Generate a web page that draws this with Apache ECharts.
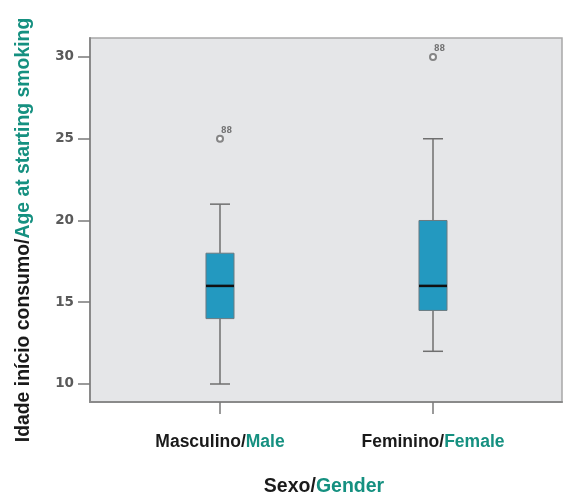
<!DOCTYPE html>
<html>
<head>
<meta charset="utf-8">
<script src="https://cdn.jsdelivr.net/npm/echarts@6/dist/echarts.min.js"></script>
<style>html,body{margin:0;padding:0;background:#fff}#c{width:565px;height:496px}</style>
</head>
<body>
<div id="c"></div>
<script>
// ---- data ----
const catPt = ['Masculino/', 'Feminino/'];
const catEn = ['Male', 'Female'];
const catPos = [1, 2];
const lowWhisker = [10, 12];
const q1 = [14, 14.5];
const median = [16, 16];
const q3 = [18, 20];
const highWhisker = [21, 25];
const outliers = [[1, 25], [2, 30]];
const outlierIds = ['88', '88'];
const yTicks = [10, 15, 20, 25, 30];

const teal = '#159080';
const boxData = catPos.map((x, i) => [x, lowWhisker[i], q1[i], median[i], q3[i], highWhisker[i]]);

const chart = echarts.init(document.getElementById('c'), null, {renderer: 'canvas'});
chart.setOption({
  animation: false,
  backgroundColor: '#ffffff',
  grid: {
    left: 90, right: 3, top: 38, bottom: 94,
    show: true, backgroundColor: '#e5e6e8', borderColor: '#a8a8a8', borderWidth: 1.5
  },
  xAxis: {
    type: 'value', min: 0.3897, max: 2.6056,
    splitLine: {show: false},
    axisLine: {show: true, onZero: false, lineStyle: {color: '#8a8a8a', width: 2}},
    axisTick: {show: true, customValues: catPos, length: 12, lineStyle: {color: '#7a7a7a', width: 1.5}},
    axisLabel: {
      customValues: catPos, margin: 31,
      formatter: function (v) {
        const i = catPos.indexOf(Math.round(v));
        return '{a|' + catPt[i] + '}{b|' + catEn[i] + '}';
      },
      rich: {
        a: {fontFamily: 'Liberation Sans', fontWeight: 'bold', fontSize: 17.5, color: '#1a1a1a'},
        b: {fontFamily: 'Liberation Sans', fontWeight: 'bold', fontSize: 17.5, color: teal}
      }
    }
  },
  yAxis: {
    type: 'value', min: 8.899, max: 31.162,
    splitLine: {show: false},
    axisLine: {show: true, lineStyle: {color: '#8a8a8a', width: 2}},
    axisTick: {show: true, customValues: yTicks, length: 12, lineStyle: {color: '#7a7a7a', width: 1.5}},
    axisLabel: {
      customValues: yTicks, margin: 16,
      fontFamily: 'DejaVu Sans', fontWeight: 'bold', fontSize: 13.5, color: '#5a5a5a'
    }
  },
  graphic: [
    {
      type: 'text', x: 24, y: 230, rotation: Math.PI / 2,
      style: {
        text: '{a|Idade início consumo/}{b|Age at starting smoking}',
        align: 'center', verticalAlign: 'middle',
        rich: {
          a: {fontFamily: 'Liberation Sans', fontWeight: 'bold', fontSize: 19.4, fill: '#1a1a1a'},
          b: {fontFamily: 'Liberation Sans', fontWeight: 'bold', fontSize: 19.4, fill: teal}
        }
      }
    },
    {
      type: 'text', x: 324, y: 487,
      style: {
        text: '{a|Sexo/}{b|Gender}',
        align: 'center', verticalAlign: 'middle',
        rich: {
          a: {fontFamily: 'Liberation Sans', fontWeight: 'bold', fontSize: 19.5, fill: '#1a1a1a'},
          b: {fontFamily: 'Liberation Sans', fontWeight: 'bold', fontSize: 19.5, fill: teal}
        }
      }
    }
  ],
  series: [
    {
      type: 'custom',
      data: boxData,
      renderItem: function (params, api) {
        const x = api.value(0);
        const lo = api.coord([x, api.value(1)]);
        const b1 = api.coord([x, api.value(2)]);
        const md = api.coord([x, api.value(3)]);
        const b3 = api.coord([x, api.value(4)]);
        const hi = api.coord([x, api.value(5)]);
        const hw = api.size([0.1315, 0])[0] / 2;
        const cw = api.size([0.094, 0])[0] / 2;
        const cx = lo[0];
        const ls = {stroke: '#6f6f6f', lineWidth: 1.5};
        return {
          type: 'group',
          children: [
            {type: 'line', shape: {x1: cx, y1: lo[1], x2: cx, y2: b1[1]}, style: ls},
            {type: 'line', shape: {x1: cx, y1: b3[1], x2: cx, y2: hi[1]}, style: ls},
            {type: 'line', shape: {x1: cx - cw, y1: lo[1], x2: cx + cw, y2: lo[1]}, style: ls},
            {type: 'line', shape: {x1: cx - cw, y1: hi[1], x2: cx + cw, y2: hi[1]}, style: ls},
            {type: 'rect', shape: {x: cx - hw, y: b3[1], width: hw * 2, height: b1[1] - b3[1]},
              style: {fill: '#2399c0', stroke: '#6a7a80', lineWidth: 1}},
            {type: 'line', shape: {x1: cx - hw, y1: md[1], x2: cx + hw, y2: md[1]},
              style: {stroke: '#111', lineWidth: 2.5}}
          ]
        };
      }
    },
    {
      type: 'scatter',
      data: outliers,
      symbol: 'emptyCircle', symbolSize: 6,
      itemStyle: {color: '#6a6a6a', borderWidth: 1.8},
      label: {
        show: true, position: [5, -8],
        formatter: function (p) { return outlierIds[p.dataIndex]; },
        fontFamily: 'DejaVu Sans', fontWeight: 'bold', fontSize: 8, color: '#555'
      }
    }
  ]
});
</script>
</body>
</html>
